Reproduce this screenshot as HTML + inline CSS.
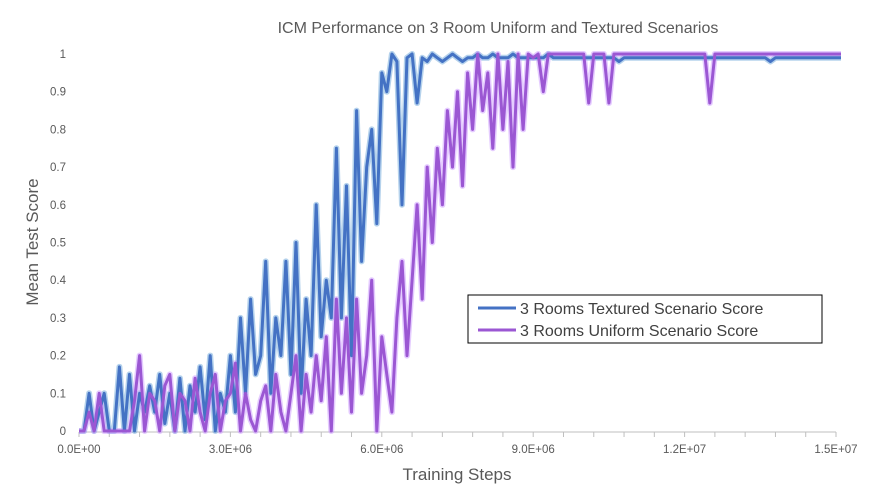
<!DOCTYPE html>
<html><head><meta charset="utf-8"><style>
body{margin:0;background:#fff;}
svg text{font-family:"Liberation Sans",sans-serif;}
</style></head><body>
<svg id="chart" width="877" height="489" xmlns="http://www.w3.org/2000/svg">
<rect width="877" height="489" fill="#fff"/>
<text x="498" y="33" text-anchor="middle" font-size="16" fill="#595959">ICM Performance on 3 Room Uniform and Textured Scenarios</text>
<text transform="translate(38,242) rotate(-90)" text-anchor="middle" font-size="17" fill="#595959">Mean Test Score</text>
<text x="457" y="480" text-anchor="middle" font-size="17" fill="#595959">Training Steps</text>
<g id="axes"></g>
<g id="series"></g>
<g>
<rect x="468" y="295" width="354" height="48" fill="#fff" stroke="#000" stroke-width="1"/>
<line x1="478" y1="308" x2="516" y2="308" stroke="#4472C4" stroke-width="3"/>
<text x="520" y="314" font-size="16" fill="#404040">3 Rooms Textured Scenario Score</text>
<line x1="478" y1="330" x2="516" y2="330" stroke="#9B57D3" stroke-width="3"/>
<text x="520" y="336" font-size="16" fill="#404040">3 Rooms Uniform Scenario Score</text>
</g>
</svg>
<script>
const stepSize = 100000;
const textured = [0,0,0.1,0,0.05,0.1,0,0,0.17,0,0.15,0,0.1,0.05,0.12,
0.05,0.15,0.02,0.1,0,0.14,0,0.12,0.05,0.17,0.03,0.2,0,0.1,0.05,
0.2,0.05,0.3,0.1,0.35,0.15,0.2,0.45,0.1,0.3,0.2,
0.45,0.15,0.5,0.1,0.35,0.2,0.6,0.25,0.4,0.3,
0.75,0.3,0.65,0.2,0.85,0.45,0.7,0.8,0.55,0.95,
0.9,1,0.98,0.6,0.99,1,0.87,0.99,0.98,1,
0.99,0.98,0.99,1,0.99,0.98,0.99,0.99,1,0.99,
0.99,1,0.99,0.99,0.99,1,0.99,0.99,0.99,0.99,
0.99,0.99,1,0.99,0.99,0.99,0.99,0.99,0.99,0.99,
0.99,0.99,0.99,0.99,0.99,0.99,0.98,0.99,0.99,0.99,
0.99,0.99,0.99,0.99,0.99,0.99,0.99,0.99,0.99,0.99,
0.99,0.99,0.99,0.99,0.99,0.99,0.99,0.99,0.99,0.99,
0.99,0.99,0.99,0.99,0.99,0.99,0.98,0.99,0.99,0.99,
0.99,0.99,0.99,0.99,0.99,0.99,0.99,0.99,0.99,0.99,0.99];
const uniform = [0,0,0.05,0,0.1,0,0,0,0,0,0,0.08,0.2,0,0.1,0.08,0,0.12,0.15,0,0.1,0.08,0,0.14,0.05,0,0.1,0.15,0,0.08,0.1,
0.18,0,0.1,0.03,0,0.08,0.12,0,0.15,0.05,0,0.1,0.2,0,0.15,0.05,0.2,0.08,0.25,0,
0.35,0.1,0.3,0.05,0.35,0.1,0.2,0.4,0,0.25,0.15,0.05,
0.3,0.45,0.2,0.4,0.6,0.35,0.7,0.5,
0.75,0.6,0.85,0.7,0.9,0.65,0.95,0.8,1,0.85,
0.95,0.75,1,0.8,0.98,0.7,1,0.8,1,0.99,
1,0.9,1,1,1,1,1,1,1,1,
0.87,1,1,1,0.87,1,1,1,1,1,
1,1,1,1,1,1,1,1,1,1,
1,1,1,1,0.87,1,1,1,1,1,
1,1,1,1,1,1,1,1,1,1,
1,1,1,1,1,1,1,1,1,1,1];
const xTickLabels = ["0.0E+00","3.0E+06","6.0E+06","9.0E+06","1.2E+07","1.5E+07"];
const xTickValues = [0,3e6,6e6,9e6,1.2e7,1.5e7];
const yTickLabels = ["0","0.1","0.2","0.3","0.4","0.5","0.6","0.7","0.8","0.9","1"];
const yTickValues = [0,0.1,0.2,0.3,0.4,0.5,0.6,0.7,0.8,0.9,1];

const X0=79,X1=836,Y0=431,Y1=54;
const xs=v=>X0+v/1.5e7*(X1-X0);
const ys=v=>Y0-v*(Y0-Y1);
const NS="http://www.w3.org/2000/svg";
const axes=document.getElementById('axes');
const series=document.getElementById('series');
function mk(tag,attrs,parent){const e=document.createElementNS(NS,tag);for(const k in attrs)e.setAttribute(k,attrs[k]);parent.appendChild(e);return e;}

const xl=mk('line',{x1:X0,y1:Y0+1,x2:X1,y2:Y0+1,stroke:'#BFBFBF','stroke-width':1},axes);


for(let v=0;v<=1.5e7+1;v+=6e5){
  const t=mk('line',{x1:xs(v),y1:Y0+1,x2:xs(v),y2:Y0+6,stroke:'#BFBFBF'},axes);
  
  
}
xTickValues.forEach((v,i)=>{
  const t=mk('text',{x:xs(v),y:Y0+22,'text-anchor':'middle','font-size':11.5,fill:'#595959'},axes);
  t.textContent=xTickLabels[i];
  
  
});
yTickValues.forEach((v,i)=>{
  const t=mk('text',{x:66,y:ys(v)+4,'text-anchor':'end','font-size':11.5,fill:'#595959'},axes);
  t.textContent=yTickLabels[i];
  
  
});
function pts(arr){return arr.map((v,i)=>xs(i*stepSize).toFixed(1)+','+ys(v).toFixed(1)).join(' ');}
const tb=mk('polyline',{points:pts(textured),fill:'none',stroke:'#5B9BD5','stroke-width':6,'stroke-opacity':0.45,'stroke-linejoin':'round'},series);


const ub=mk('polyline',{points:pts(uniform),fill:'none',stroke:'#CC99FF','stroke-width':6,'stroke-opacity':0.5,'stroke-linejoin':'round'},series);


const tl=mk('polyline',{points:pts(textured),fill:'none',stroke:'#4472C4','stroke-width':3,'stroke-linejoin':'round'},series);


const ul=mk('polyline',{points:pts(uniform),fill:'none',stroke:'#9B57D3','stroke-width':3,'stroke-linejoin':'round'},series);


</script>
</body></html>
